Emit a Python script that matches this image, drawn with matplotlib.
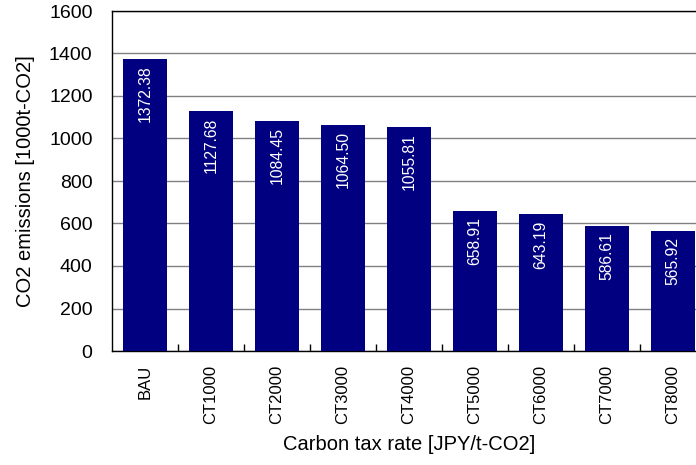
import numpy as np
import matplotlib.pyplot as plt

plt.rcParams['font.family'] = ['Liberation Sans', 'DejaVu Sans']

cases = ["BAU", "CT1000", "CT2000", "CT3000", "CT4000",
         "CT5000", "CT6000", "CT7000", "CT8000"]
emissions = [1372.38, 1127.68, 1084.45, 1064.50, 1055.81,
             658.91, 643.19, 586.61, 565.92]

fig = plt.figure(figsize=(6.96, 4.65), dpi=100)
ax = fig.add_axes([112/696, 114/465, 594/696, 340/465])

x = np.arange(len(cases))
bars = ax.bar(x, emissions, width=0.68, color="#000080", zorder=3)

# value labels inside each bar, near the top
for b, v in zip(bars, emissions):
    ax.annotate("%.2f" % v, (b.get_x() + b.get_width() / 2, v),
                xytext=(0, -4.5), textcoords="offset points",
                ha="center", va="top", rotation=90,
                color="white", fontsize=11.3, zorder=4)

ax.set_xlim(-0.5, len(cases) - 0.5)
ax.set_ylim(0, 1600)
ax.set_yticks(np.arange(0, 1601, 200))
ax.yaxis.grid(True, color="#808080", lw=1.0, zorder=0)
ax.tick_params(axis="y", length=0, labelsize=14, pad=14)

ax.set_xticks(x)
ax.set_xticklabels(cases, rotation=90, fontsize=12)
ax.tick_params(axis="x", which="major", length=0, pad=10)
ax.set_xticks(x[:-1] + 0.5, minor=True)
ax.tick_params(axis="x", which="minor", direction="in", length=5, width=1)

for s in ["left", "bottom", "top"]:
    ax.spines[s].set_color("black")
    ax.spines[s].set_linewidth(1.0)
ax.spines["right"].set_visible(False)

ax.set_xlabel("Carbon tax rate [JPY/t-CO2]", fontsize=14.5, labelpad=8)
ax.set_ylabel("CO2 emissions [1000t-CO2]", fontsize=14.5, labelpad=10)

fig.savefig("out.png", dpi=100)
